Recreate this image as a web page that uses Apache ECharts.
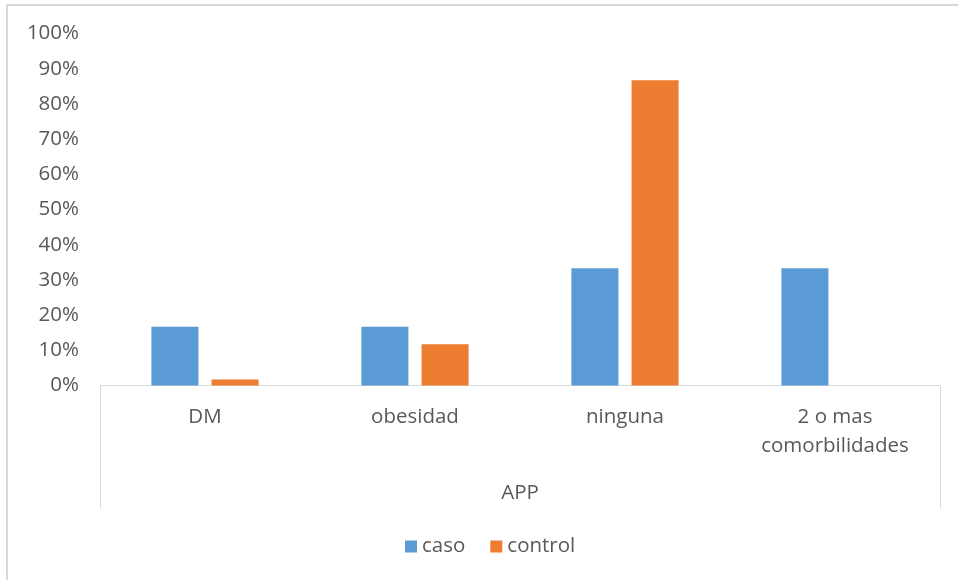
<!DOCTYPE html>
<html>
<head>
<meta charset="utf-8">
<script src="https://cdn.jsdelivr.net/npm/echarts@6/dist/echarts.min.js"></script>
<style>
  html, body { margin: 0; padding: 0; background: #ffffff; }
  #chart { width: 958px; height: 580px; }
</style>
</head>
<body>
<div id="chart"></div>
<script>
// Antecedentes personales patológicos (APP), porcentaje por grupo
const categories = ['DM', 'obesidad', 'ninguna', '2 o mas\ncomorbilidades'];
const casoValues = [16.7, 16.7, 33.3, 33.3];
const controlValues = [1.7, 11.7, 86.7, 0];
const seriesNames = ['caso', 'control'];
const axisTitle = 'APP';

const FONT = '"Open Sans", "Noto Sans", sans-serif';
const TEXT = '#595959';
const LINE = '#d9d9d9';
const FS = 20.5;

const chart = echarts.init(document.getElementById('chart'), null, { renderer: 'canvas' });

chart.setOption({
  animation: false,
  backgroundColor: '#ffffff',
  textStyle: { fontFamily: FONT },
  graphic: [{
    type: 'rect',
    shape: { x: 7, y: 5, width: 1000, height: 700 },
    style: { fill: null, stroke: LINE, lineWidth: 2 },
    silent: true
  }],
  grid: { left: 100, right: 18, top: 33.5, bottom: 194.5, containLabel: false },
  legend: {
    data: seriesNames,
    left: 400,
    top: 531,
    itemWidth: 12,
    itemHeight: 12,
    itemGap: 25,
    icon: 'rect',
    textStyle: { color: TEXT, fontSize: FS, fontFamily: FONT }
  },
  xAxis: {
    type: 'category',
    data: categories,
    name: axisTitle,
    nameLocation: 'middle',
    nameGap: 97,
    nameTextStyle: { color: TEXT, fontSize: FS, fontFamily: FONT, lineHeight: 22 },
    axisLine: { show: true, lineStyle: { color: LINE, width: 1 } },
    axisTick: {
      show: true,
      interval: function (index) { return index === 0; },
      length: 123,
      lineStyle: { color: LINE, width: 1 }
    },
    axisLabel: {
      color: TEXT,
      fontSize: FS,
      fontFamily: FONT,
      lineHeight: 29,
      margin: 17,
      interval: 0
    },
    splitLine: { show: false }
  },
  yAxis: {
    type: 'value',
    min: 0,
    max: 100,
    interval: 10,
    axisLine: { show: false },
    axisTick: { show: false },
    splitLine: { show: false },
    axisLabel: {
      formatter: '{value}%',
      color: TEXT,
      fontSize: FS,
      fontFamily: FONT,
      margin: 21
    }
  },
  series: [
    {
      name: seriesNames[0],
      type: 'bar',
      data: casoValues,
      barWidth: 47,
      barGap: '28%',
      itemStyle: { color: '#5b9bd5' }
    },
    {
      name: seriesNames[1],
      type: 'bar',
      data: controlValues,
      barWidth: 47,
      barGap: '28%',
      itemStyle: { color: '#ed7d31' }
    }
  ]
});
</script>
</body>
</html>
